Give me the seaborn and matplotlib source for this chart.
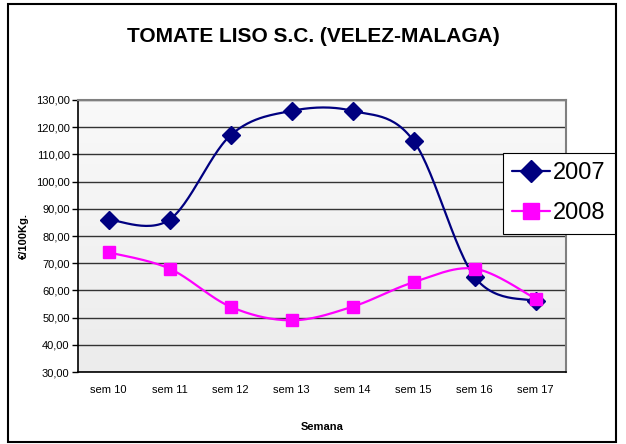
import numpy as np
import pandas as pd
import matplotlib
matplotlib.use("Agg")
import matplotlib.pyplot as plt
import seaborn as sns
from matplotlib.patches import Rectangle
from matplotlib.lines import Line2D

# Data

semanas = ["sem 10", "sem 11", "sem 12", "sem 13", "sem 14", "sem 15", "sem 16", "sem 17"]
precio_2007 = [86, 86, 117, 126, 126, 115, 65, 56]
precio_2008 = [74, 68, 54, 49, 54, 63, 68, 57]
yticks = [30, 40, 50, 60, 70, 80, 90, 100, 110, 120, 130]


def smooth(x, y, n=30):
    # Excel style smoothing (Catmull-Rom through the points)
    x = np.asarray(x, float)
    y = np.asarray(y, float)
    px = np.concatenate([[x[0]], x, [x[-1]]])
    py = np.concatenate([[y[0]], y, [y[-1]]])
    xs, ys = [], []
    for i in range(1, len(px) - 2):
        p0 = np.array([px[i], py[i]])
        p3 = np.array([px[i + 1], py[i + 1]])
        c1 = p0 + (np.array([px[i + 1], py[i + 1]]) - np.array([px[i - 1], py[i - 1]])) / 6
        c2 = p3 - (np.array([px[i + 2], py[i + 2]]) - np.array([px[i], py[i]])) / 6
        t = np.linspace(0, 1, n)[:, None]
        pts = (1 - t) ** 3 * p0 + 3 * (1 - t) ** 2 * t * c1 + 3 * (1 - t) * t ** 2 * c2 + t ** 3 * p3
        xs.extend(pts[:, 0])
        ys.extend(pts[:, 1])
    return np.array(xs), np.array(ys)


sns.set_style("white")
plt.rcParams["font.family"] = ["Liberation Sans", "DejaVu Sans"]
plt.rcParams["text.color"] = "black"
plt.rcParams["axes.labelcolor"] = "black"
plt.rcParams["xtick.color"] = "black"
plt.rcParams["ytick.color"] = "black"

fig = plt.figure(figsize=(6.26, 4.44), dpi=100)
ax = fig.add_axes([78 / 626, 1 - 372 / 444, 488 / 626, 272 / 444])

# figure frame
fig.patches.append(Rectangle((8 / 626, 2 / 444), 608 / 626, 438 / 444,
                             transform=fig.transFigure, fill=False,
                             edgecolor="black", linewidth=1.5))

# plot area gradient
ax.imshow(np.linspace(0, 1, 100)[:, None], extent=[-0.5, 7.5, 30, 130],
          aspect="auto", cmap=matplotlib.colors.LinearSegmentedColormap.from_list(
              "g", ["#f9f9f9", "#ececec"]), origin="upper", zorder=0)

xpos = np.arange(len(semanas))

series = [
    ("2007", precio_2007, "#000080", "D", 9),
    ("2008", precio_2008, "#ff00ff", "s", 9),
]

for name, vals, col, mk, ms in series:
    sx, sy = smooth(xpos, vals)
    sns.lineplot(x=sx, y=sy, ax=ax, color=col, linewidth=1.6, sort=False,
                 estimator=None, zorder=3)
    ax.plot(xpos, vals, linestyle="none", marker=mk, markersize=ms,
            color=col, zorder=4)

# legend
handles = [Line2D([], [], color=c, marker=m, markersize=11, linewidth=1.6)
           for _, _, c, m, _ in series]
leg = fig.legend(handles, [s[0] for s in series], loc="upper left",
                 bbox_to_anchor=(503 / 626, 1 - 153 / 444), fontsize=17,
                 frameon=True, fancybox=False, edgecolor="black",
                 handlelength=1.6, handletextpad=0.1, borderpad=0.4,
                 labelspacing=0.75, borderaxespad=0)
leg.get_frame().set_linewidth(0.8)
leg.get_frame().set_alpha(1)

ax.set_xlim(-0.5, 7.5)
ax.set_ylim(30, 130)
ax.set_yticks(yticks)
ax.set_yticklabels([f"{v:.2f}".replace(".", ",") for v in yticks], fontsize=8)
ax.set_xticks(xpos)
ax.set_xticklabels(semanas, fontsize=8)
ax.set_xticks(np.arange(-0.5, 8, 1), minor=True)
ax.tick_params(axis="x", which="major", length=0, pad=9)
ax.tick_params(axis="x", which="minor", length=4, direction="out", width=1)
ax.tick_params(axis="y", length=4, direction="out", width=1, pad=2, left=True)
ax.grid(axis="y", color="#333333", linewidth=1)
ax.set_axisbelow(True)

for s in ["left", "bottom"]:
    ax.spines[s].set_color("black")
    ax.spines[s].set_linewidth(1.2)
for s in ["top", "right"]:
    ax.spines[s].set_color("#808080")
    ax.spines[s].set_linewidth(1.5)

ax.set_ylabel("€/100Kg.", fontsize=8, fontweight="bold", labelpad=5)
ax.set_xlabel("Semana", fontsize=8, fontweight="bold", labelpad=20)

fig.text(313 / 626, 1 - 36 / 444, "TOMATE LISO S.C. (VELEZ-MALAGA)",
         ha="center", va="center", fontsize=15, fontweight="bold")

fig.savefig("out.png", dpi=100)
